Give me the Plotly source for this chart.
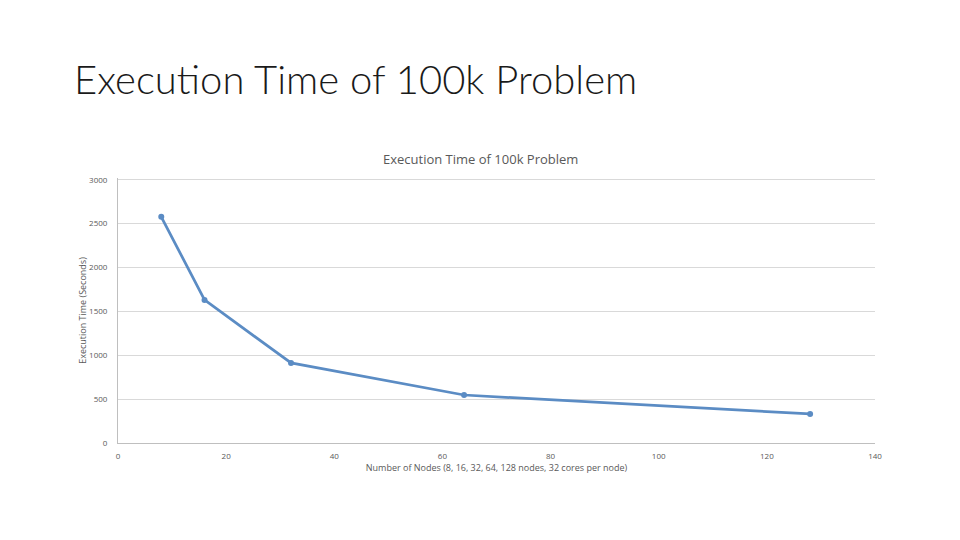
import plotly.graph_objects as go

nodes = [8, 16, 32, 64, 128]
exec_time = [2578, 1631, 912, 547, 331]
x_ticks = [0, 20, 40, 60, 80, 100, 120, 140]
y_ticks = [0, 500, 1000, 1500, 2000, 2500, 3000]

line_color = "#5b8cc4"
text_gray = "#595959"

fig = go.Figure()
fig.add_trace(go.Scatter(
    x=nodes, y=exec_time, mode="lines+markers",
    line=dict(color=line_color, width=2.75),
    marker=dict(color=line_color, size=6),
    showlegend=False,
))

fig.update_layout(
    width=960, height=540,
    paper_bgcolor="white", plot_bgcolor="white",
    margin=dict(l=118, r=85, t=178, b=97),
    font=dict(family="Open Sans, Liberation Sans, sans-serif", color=text_gray, size=8),
    title=dict(
        text="Execution Time of 100k Problem",
        font=dict(family="Lato, Open Sans, sans-serif", size=40, color="#1a1a1a", weight=300),
        xref="container", yref="container",
        x=74/960, xanchor="left", y=1 - 80/540, yanchor="middle",
    ),
    xaxis=dict(
        range=[0, 140], tickvals=x_ticks, showgrid=False, zeroline=False,
        showline=True, linecolor="#bfbfbf", linewidth=1,
        ticks="", tickfont=dict(size=8, color=text_gray), ticklabelstandoff=5,
        title=dict(text="Number of Nodes (8, 16, 32, 64, 128 nodes, 32 cores per node)",
                   font=dict(size=9, color=text_gray), standoff=3),
    ),
    yaxis=dict(
        range=[0, 3020], tickvals=y_ticks, showgrid=True, gridcolor="#d9d9d9", gridwidth=1,
        zeroline=False, showline=True, linecolor="#bfbfbf", linewidth=1,
        ticks="", tickfont=dict(size=8, color=text_gray), ticklabelstandoff=8,
        title=dict(text="Execution Time (Seconds)", font=dict(size=9, color=text_gray), standoff=0),
    ),
    annotations=[dict(
        text="Execution Time of 100k Problem", xref="paper", yref="paper",
        x=(480 - 118) / 757, y=(443 - 159) / 265, xanchor="center", yanchor="middle",
        showarrow=False, font=dict(size=13, color=text_gray),
    )],
)

fig.write_html("out.html")
